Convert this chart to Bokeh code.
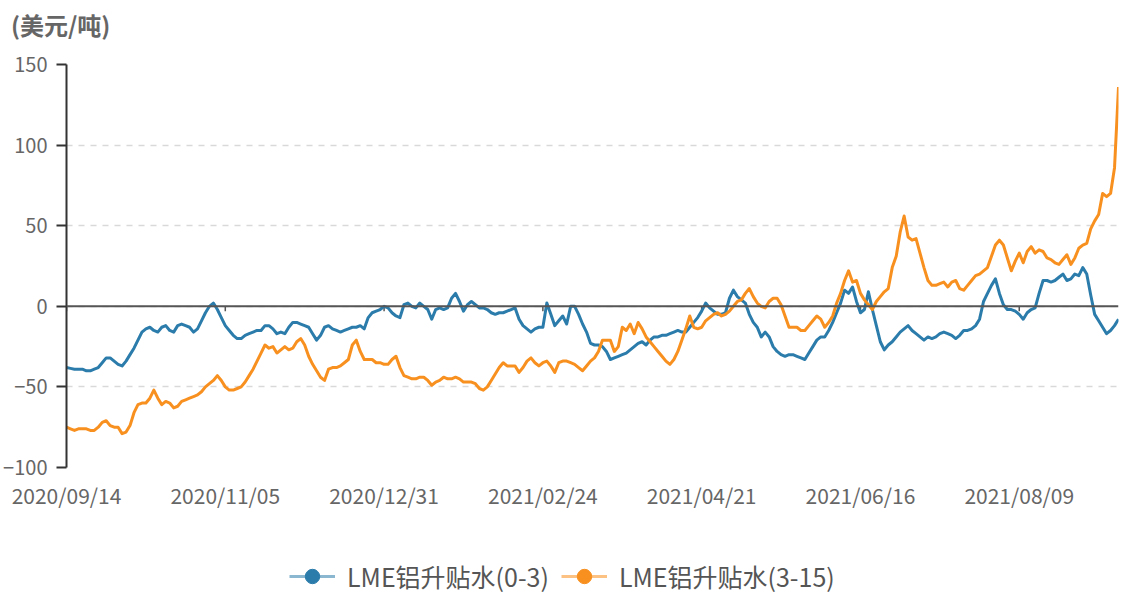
from bokeh.plotting import figure
from bokeh.layouts import column
from bokeh.models import Span, Legend, LegendItem, FixedTicker, Range1d, Div
from bokeh.embed import file_html
from bokeh.resources import INLINE

# ---------------- data ----------------
tick_labels = ["2020/09/14", "2020/11/05", "2020/12/31", "2021/02/24",
               "2021/04/21", "2021/06/16", "2021/08/09"]
tick_step = 40
y_ticks = [-100, -50, 0, 50, 100, 150]
y_unit = "(美元/吨)"
series_names = ["LME铝升贴水(0-3)", "LME铝升贴水(3-15)"]

lme_0_3 = [
    -38, -38.5, -39, -39, -39, -40, -40, -39, -38, -35,
    -32, -32, -34, -36, -37, -34, -30, -26, -21, -16,
    -14, -13, -15, -16, -13, -12, -15, -16, -12, -11,
    -12, -13, -16, -14, -9, -4, 0, 2, -2, -7,
    -12, -15, -18, -20, -20, -18, -17, -16, -15, -15,
    -12, -12, -14, -17, -16, -17, -13, -10, -10, -11,
    -12, -13, -17, -21, -18, -13, -12, -14, -15, -16,
    -15, -14, -13, -13, -12, -14, -7, -4, -3, -2,
    0, -1, -4, -6, -7, 1, 2, 0, -1, 2,
    0, -2, -8, -2, -1, -2, -1, 5, 8, 3,
    -3, 1, 3, 1, -1, -1, -2, -4, -5, -4,
    -4, -3, -2, -1, -8, -12, -14, -16, -14, -13,
    -13, 2, -5, -12, -9, -6, -11, 0, 0, -5,
    -11, -16, -23, -24, -24, -25, -28, -33, -32, -31,
    -30, -29, -27, -25, -23, -22, -24, -21, -19, -19,
    -18, -18, -17, -16, -15, -16, -16, -13, -10, -7,
    -3, 2, -1, -3, -5, -5, -4, 5, 10, 6,
    4, 2, -5, -10, -13, -19, -16, -19, -25, -28,
    -30, -31, -30, -30, -31, -32, -33, -29, -25, -21,
    -19, -19, -15, -10, -4, 2, 10, 8, 12, 3,
    -4, -2, 9, -2, -12, -22, -27, -24, -22, -19,
    -16, -14, -12, -15, -17, -19, -21, -19, -20, -19,
    -17, -16, -17, -18, -20, -18, -15, -15, -14, -12,
    -8, 3, 8, 13, 17, 8, 1, -2, -2, -3,
    -5, -8, -4, -2, -1, 8, 16, 16, 15, 16,
    18, 20, 16, 17, 20, 19, 24, 20, 7, -5,
    -9, -13, -17, -15, -12, -8,
]

lme_3_15 = [
    -75, -76, -77, -76, -76, -76, -77, -77, -75, -72,
    -71, -74, -75, -75, -79, -78, -74, -66, -61, -60,
    -60, -57, -52, -57, -61, -59, -60, -63, -62, -59,
    -58, -57, -56, -55, -53, -50, -48, -46, -43, -46,
    -50, -52, -52, -51, -50, -47, -43, -39, -34, -29,
    -24, -26, -25, -29, -27, -25, -27, -26, -22, -20,
    -24, -31, -36, -40, -44, -46, -39, -38, -38, -37,
    -35, -33, -24, -21, -28, -33, -33, -33, -35, -35,
    -36, -36, -33, -31, -38, -43, -44, -45, -45, -44,
    -44, -46, -49, -47, -46, -44, -45, -45, -44, -45,
    -47, -47, -47, -48, -51, -52, -50, -46, -42, -38,
    -35, -37, -37, -37, -41, -38, -34, -32, -35, -37,
    -35, -34, -37, -41, -35, -34, -34, -35, -36, -38,
    -40, -37, -34, -32, -28, -21, -21, -21, -28, -25,
    -13, -15, -11, -17, -10, -14, -19, -22, -25, -28,
    -31, -34, -36, -33, -28, -21, -14, -6, -13, -14,
    -13, -9, -7, -5, -4, -6, -5, -3, 0, 3,
    4, 8, 11, 6, 2, 0, -1, 3, 5, 5,
    1, -6, -13, -13, -13, -15, -15, -12, -9, -6,
    -8, -13, -10, -6, 2, 8, 16, 22, 15, 16,
    8, 4, 1, -2, 3, 6, 9, 11, 24, 31,
    46, 56, 43, 41, 42, 33, 24, 16, 13, 13,
    14, 15, 12, 15, 16, 11, 10, 13, 16, 19,
    20, 22, 24, 31, 38, 41, 38, 30, 22, 28,
    33, 27, 34, 37, 33, 35, 34, 30, 29, 27,
    26, 29, 32, 26, 30, 36, 38, 39, 48, 53,
    57, 70, 68, 70, 86, 136,
]

# ---------------- style ----------------
BLUE = "#2B7CAB"
ORANGE = "#F8901F"
TEXT = "#666666"
AXIS = "#333333"
FONT = "Noto Sans CJK SC"

n = len(lme_0_3)
idx = list(range(n))
tick_pos = [i * tick_step for i in range(len(tick_labels))]

# ---------------- unit header ----------------
header = Div(text=y_unit, width=1120, height=40,
             styles={"font-family": FONT, "font-size": "24px", "font-weight": "bold",
                     "color": TEXT, "line-height": "24px", "padding-top": "13px",
                     "padding-left": "11px", "margin": "0", "box-sizing": "border-box"})

# ---------------- main chart ----------------
p = figure(width=1120, height=477, output_backend="svg", toolbar_location=None,
           x_range=Range1d(0, n - 1), y_range=Range1d(-100, 150),
           min_border_left=60, min_border_right=2, min_border_top=24,
           min_border_bottom=50)
p.outline_line_color = None
p.background_fill_color = "white"

# axes
p.xaxis.ticker = FixedTicker(ticks=tick_pos)
p.xaxis.major_label_overrides = {t: lab for t, lab in zip(tick_pos, tick_labels)}
p.xaxis.axis_line_color = None
p.xaxis.major_tick_line_color = None
p.xaxis.minor_tick_line_color = None
p.xaxis.major_label_standoff = 6
p.xaxis.major_label_text_font = FONT
p.xaxis.major_label_text_font_size = "21px"
p.xaxis.major_label_text_color = TEXT

p.yaxis.ticker = FixedTicker(ticks=y_ticks)
p.yaxis.axis_line_color = AXIS
p.yaxis.axis_line_width = 2
p.yaxis.major_tick_line_color = AXIS
p.yaxis.major_tick_line_width = 2
p.yaxis.major_tick_out = 10
p.yaxis.major_tick_in = 0
p.yaxis.minor_tick_line_color = None
p.yaxis.major_label_standoff = 9
p.yaxis.major_label_text_font = FONT
p.yaxis.major_label_text_font_size = "20px"
p.yaxis.major_label_text_color = TEXT

p.xgrid.visible = False
p.ygrid.ticker = FixedTicker(ticks=y_ticks)
p.ygrid.grid_line_color = "#d9d9d9"
p.ygrid.grid_line_dash = "6 6"
p.ygrid.grid_line_width = 1.5

# zero line (category axis line)
p.add_layout(Span(location=0, dimension="width", line_color="#555555", line_width=2))
p.segment(x0=tick_pos, y0=[0] * len(tick_pos), x1=tick_pos, y1=[-3] * len(tick_pos),
          line_color="#555555", line_width=1.5)

# series
p.line(idx, lme_0_3, line_color=BLUE, line_width=3, line_join="round")
p.line(idx, lme_3_15, line_color=ORANGE, line_width=3, line_join="round")

# ---------------- legend strip ----------------
p2 = figure(width=1120, height=78, output_backend="svg", toolbar_location=None,
            x_range=Range1d(0, 1), y_range=Range1d(0, 1),
            x_axis_location=None, y_axis_location=None,
            min_border_left=0, min_border_right=0, min_border_top=0, min_border_bottom=0)
p2.outline_line_color = None
p2.grid.visible = False

nan = float("nan")
lb = p2.line(x=[nan], y=[nan], line_color=BLUE, line_width=3, line_alpha=0.55)
db = p2.scatter(x=[nan], y=[nan], marker="circle", fill_color=BLUE, line_color=BLUE)
lo = p2.line(x=[nan], y=[nan], line_color=ORANGE, line_width=3, line_alpha=0.55)
do = p2.scatter(x=[nan], y=[nan], marker="circle", fill_color=ORANGE, line_color=ORANGE)

legend = Legend(items=[LegendItem(label=series_names[0], renderers=[lb, db]),
                       LegendItem(label=series_names[1], renderers=[lo, do])],
                location=(223, 1), orientation="horizontal",
                padding=0, margin=0, spacing=12, label_standoff=12,
                glyph_width=46, glyph_height=36,
                border_line_color=None, background_fill_alpha=0,
                label_text_font=FONT, label_text_font_size="25px",
                label_text_color="#555555", label_text_baseline="middle")
p2.add_layout(legend)

layout = column(header, p, p2, spacing=0)
open("out.html", "w").write(file_html(layout, INLINE))
